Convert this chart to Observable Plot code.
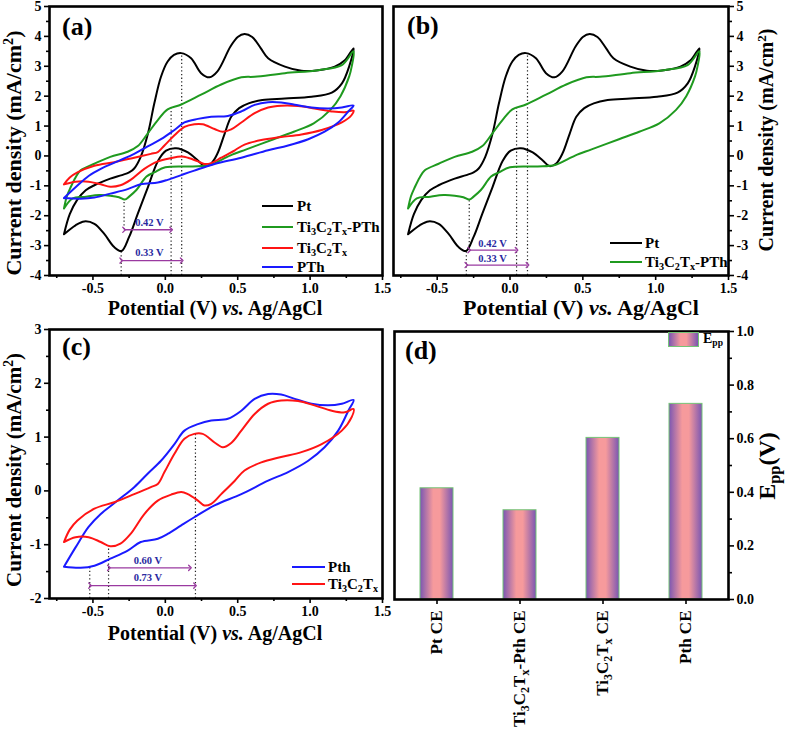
<!DOCTYPE html>
<html><head><meta charset="utf-8">
<script src="https://cdn.jsdelivr.net/npm/d3@7"></script>
<script src="https://cdn.jsdelivr.net/npm/@observablehq/plot@0.6"></script>
<style>
html,body{margin:0;padding:0;background:#fff;}
#root{position:relative;width:787px;height:731px;overflow:hidden;font-family:"Liberation Serif","Times New Roman",serif;font-weight:bold;color:#000;}
#root svg{position:absolute;overflow:visible;}
.t{position:absolute;white-space:nowrap;line-height:1;}
.c{transform:translate(-50%,-50%);}
.r{transform:translate(-50%,-50%) rotate(-90deg);}
.lg{transform:translateY(-50%);}
sub{font-size:68%;vertical-align:-0.3em;line-height:0;}
sup{font-size:65%;vertical-align:0.55em;line-height:0;}
.sw{position:absolute;height:0;border-top:2.2px solid;}
</style></head><body><div id="root"></div>
<script>
// ---------- data ----------
const ptCV = [[-0.70,-2.62],[-0.66,-1.95],[-0.61,-1.48],[-0.55,-1.15],[-0.49,-0.98],[-0.38,-0.76],[-0.30,-0.64],[-0.25,-0.55],[-0.215,-0.42],[-0.17,-0.03],[-0.12,0.75],[-0.076,1.76],[-0.03,2.65],[0.016,3.16],[0.06,3.38],[0.11,3.44],[0.178,3.27],[0.247,2.77],[0.305,2.63],[0.36,2.83],[0.45,3.66],[0.50,3.98],[0.547,4.08],[0.60,3.98],[0.66,3.6],[0.71,3.27],[0.826,2.99],[0.94,2.85],[1.056,2.87],[1.17,2.99],[1.24,3.2],[1.30,3.6],
[1.27,3.0],[1.22,2.43],[1.15,2.12],[1.01,1.98],[0.826,1.92],[0.67,1.87],[0.575,1.76],[0.51,1.6],[0.455,1.31],[0.41,0.75],[0.36,0.08],[0.317,-0.25],[0.27,-0.34],[0.225,-0.15],[0.156,0.12],[0.075,0.26],[0.005,0.18],[-0.05,-0.16],[-0.12,-1.04],[-0.19,-1.93],[-0.25,-2.71],[-0.302,-3.18],[-0.353,-3.05],[-0.423,-2.6],[-0.49,-2.27],[-0.56,-2.19],[-0.62,-2.32],[-0.70,-2.62]];
const greenCV = [[-0.70,-1.76],[-0.68,-1.35],[-0.653,-1.04],[-0.62,-0.72],[-0.585,-0.48],[-0.49,-0.26],[-0.38,-0.03],[-0.26,0.14],[-0.19,0.33],[-0.122,0.75],[-0.052,1.2],[0.016,1.56],[0.11,1.72],[0.247,2.05],[0.386,2.39],[0.525,2.63],[0.617,2.65],[0.826,2.77],[1.056,2.87],[1.219,3.04],[1.30,3.5],
[1.287,2.99],[1.27,2.66],[1.21,2.0],[1.14,1.54],[1.025,1.09],[0.887,0.81],[0.748,0.56],[0.56,0.22],[0.45,0.02],[0.4,-0.1],[0.31,-0.3],[0.19,-0.35],[0.0,-0.38],[-0.076,-0.55],[-0.13,-0.69],[-0.2,-1.14],[-0.25,-1.36],[-0.28,-1.46],[-0.32,-1.38],[-0.38,-1.33],[-0.456,-1.31],[-0.56,-1.37],[-0.64,-1.42],[-0.70,-1.76]];
const redCV = [[-0.70,-0.95],[-0.66,-0.72],[-0.607,-0.55],[-0.49,-0.33],[-0.353,-0.21],[-0.215,-0.06],[-0.1,0.07],[-0.052,0.13],[-0.006,0.35],[0.063,0.69],[0.132,0.97],[0.2,1.06],[0.258,1.06],[0.34,0.9],[0.397,0.81],[0.455,0.89],[0.525,1.12],[0.617,1.43],[0.71,1.62],[0.8,1.68],[0.917,1.67],[1.03,1.59],[1.15,1.49],[1.24,1.46],[1.30,1.52],
[1.287,1.37],[1.219,1.12],[1.08,0.87],[0.94,0.72],[0.8,0.63],[0.663,0.53],[0.547,0.38],[0.48,0.19],[0.386,-0.06],[0.317,-0.24],[0.27,-0.27],[0.225,-0.18],[0.156,-0.06],[0.11,-0.02],[0.04,-0.07],[-0.052,-0.18],[-0.145,-0.43],[-0.24,-0.8],[-0.31,-0.98],[-0.38,-1.03],[-0.446,-0.95],[-0.53,-0.86],[-0.62,-0.86],[-0.70,-0.95]];
const blueCV = [[-0.70,-1.41],[-0.62,-1.05],[-0.53,-0.67],[-0.446,-0.43],[-0.33,-0.18],[-0.215,0.07],[-0.122,0.32],[-0.03,0.56],[0.063,0.87],[0.132,1.12],[0.225,1.24],[0.317,1.31],[0.432,1.34],[0.525,1.49],[0.617,1.71],[0.71,1.8],[0.8,1.79],[0.894,1.71],[1.01,1.62],[1.125,1.59],[1.219,1.62],[1.30,1.69],
[1.264,1.49],[1.194,1.12],[1.1,0.81],[0.987,0.56],[0.848,0.35],[0.71,0.19],[0.525,-0.06],[0.34,-0.27],[0.2,-0.49],[0.11,-0.64],[0.016,-0.8],[-0.052,-0.89],[-0.17,-0.95],[-0.26,-1.11],[-0.38,-1.26],[-0.49,-1.39],[-0.585,-1.43],[-0.70,-1.41]];

const ceNames = ["Pt CE","Ti3C2Tx-Pth CE","Ti3C2Tx CE","Pth CE"];
const eppValues = [0.415, 0.333, 0.603, 0.73];

const xMajor = [-0.5,0,0.5,1,1.5];
const xMinor = [-0.75,-0.25,0.25,0.75,1.25];
const yMajorAB = [-4,-3,-2,-1,0,1,2,3,4,5];
const yMinorAB = [-3.5,-2.5,-1.5,-0.5,0.5,1.5,2.5,3.5,4.5];
const yMajorC = [-2,-1,0,1,2,3];
const yMinorC = [-1.5,-0.5,0.5,1.5,2.5];
const yMajorD = [0,0.2,0.4,0.6,0.8,1.0];
const yMinorD = [0.1,0.3,0.5,0.7,0.9];

const dotsA = [{x:-0.305,y1:-4,y2:-3.18},{x:-0.285,y1:-2.47,y2:-1.47},{x:0.04,y1:-4,y2:1.62},{x:0.113,y1:-4,y2:3.42}];
const arrowsA = [{x1:-0.285,x2:0.04,y:-2.47,lx:-0.11,ly:-2.24,label:"0.42 V"},{x1:-0.305,x2:0.113,y:-3.5,lx:-0.11,ly:-3.25,label:"0.33 V"}];
const dotsB = [{x:-0.30,y1:-4,y2:-3.18},{x:-0.28,y1:-3.15,y2:-1.47},{x:0.045,y1:-4,y2:1.6},{x:0.12,y1:-4,y2:3.42}];
const arrowsB = [{x1:-0.28,x2:0.045,y:-3.15,lx:-0.12,ly:-2.93,label:"0.42 V"},{x1:-0.30,x2:0.12,y:-3.65,lx:-0.12,ly:-3.43,label:"0.33 V"}];
const dotsC = [{x:-0.522,y1:-2,y2:-1.42},{x:-0.392,y1:-2,y2:-1.03},{x:0.208,y1:-2,y2:1.07}];
const arrowsC = [{x1:-0.39,x2:0.17,y:-1.43,lx:-0.12,ly:-1.3,label:"0.60 V"},{x1:-0.52,x2:0.205,y:-1.76,lx:-0.12,ly:-1.62,label:"0.73 V"}];

const colPt = "#000000", colGreen = "#1f9a1f", colRed = "#ff1414", colBlue = "#1a1aff";

// ---------- helpers ----------
const root = document.getElementById("root");
const ns = "http://www.w3.org/2000/svg";
const fmt1 = d => d.toFixed(1);
const fmt0 = d => String(d);
const baseStyle = {fontFamily:"'Liberation Serif', serif", fontWeight:"bold", fontSize:"14px", background:"transparent", overflow:"visible"};

function cvMarks(curves, dots, arrows, yAnchor, yMajor, yMinor) {
  return [
    Plot.axisX(xMajor, {tickSize:5, tickPadding:3, tickFormat:fmt1, label:null, strokeWidth:1.6, fontSize:14}),
    Plot.axisX(xMinor, {tickSize:3, tickFormat:()=>"", label:null, strokeWidth:1.6}),
    Plot.axisY(yMajor, {anchor:yAnchor, tickSize:5, tickPadding:3, tickFormat:fmt0, label:null, strokeWidth:1.6, fontSize:14}),
    Plot.axisY(yMinor, {anchor:yAnchor, tickSize:3, tickFormat:()=>"", label:null, strokeWidth:1.6}),
    Plot.ruleX(dots, {x:"x", y1:"y1", y2:"y2", stroke:"#222", strokeWidth:1.2, strokeDasharray:"1.3,2.4"}),
    ...curves.map(c => Plot.line(c.data, {x:d=>d[0], y:d=>d[1], stroke:c.color, strokeWidth:2, curve:"catmull-rom"})),
    Plot.link(arrows, {x1:"x1", x2:"x2", y1:"y", y2:"y", stroke:"#9a3aa0", strokeWidth:1.3, markerStart:"arrow", markerEnd:"arrow"}),
    Plot.text(arrows, {x:"lx", y:"ly", text:"label", fill:"#2a2aa0", fontSize:10.5, fontWeight:"bold"}),
    Plot.frame({stroke:"#000", strokeWidth:2.6})
  ];
}
function place(svg, left, top) { svg.style.left = left+"px"; svg.style.top = top+"px"; root.appendChild(svg); }
function addText(html, x, y, cls, size, extra) {
  const d = document.createElement("div");
  d.className = "t " + cls;
  d.innerHTML = html;
  d.style.left = x+"px"; d.style.top = y+"px"; d.style.fontSize = size+"px";
  if (extra) Object.assign(d.style, extra);
  root.appendChild(d);
}
function addLegend(items, x1, x2, tx, ys, size) {
  items.forEach((it,i) => {
    const s = document.createElement("div");
    s.className = "sw"; s.style.left = x1+"px"; s.style.width = (x2-x1)+"px";
    s.style.top = (ys[i]-1)+"px"; s.style.borderTopColor = it.color;
    root.appendChild(s);
    addText(it.html, tx, ys[i], "lg", size);
  });
}
const tiHtml = "Ti<sub>3</sub>C<sub>2</sub>T<sub>x</sub>";
const yTitle = "Current density (mA/cm<sup>2</sup>)";
const xTitle = "Potential (V) <i>vs.</i> Ag/AgCl";

// ---------- panel (a) ----------
const pa = Plot.plot({
  width:390, height:320, marginLeft:49, marginRight:8, marginTop:6, marginBottom:45,
  x:{domain:[-0.8,1.5]}, y:{domain:[-4,5]}, style:baseStyle,
  marks: cvMarks([{data:ptCV,color:colPt},{data:greenCV,color:colGreen},{data:redCV,color:colRed},{data:blueCV,color:colBlue}], dotsA, arrowsA, "left", yMajorAB, yMinorAB)
});
place(pa, 0, 0);

// ---------- panel (b) ----------
const pb = Plot.plot({
  width:397, height:320, marginLeft:3, marginRight:59, marginTop:6, marginBottom:45,
  x:{domain:[-0.8,1.5]}, y:{domain:[-4,5]}, style:baseStyle,
  marks: cvMarks([{data:ptCV,color:colPt},{data:greenCV,color:colGreen}], dotsB, arrowsB, "right", yMajorAB, yMinorAB)
});
place(pb, 390, 0);

// ---------- panel (c) ----------
const pc = Plot.plot({
  width:390, height:330, marginLeft:49, marginRight:8, marginTop:9, marginBottom:52,
  x:{domain:[-0.8,1.5]}, y:{domain:[-2,3]}, style:baseStyle,
  marks: cvMarks([{data:blueCV,color:colBlue},{data:redCV,color:colRed}], dotsC, arrowsC, "left", yMajorC, yMinorC)
});
place(pc, 0, 320);

// ---------- panel (d) ----------
const pd = Plot.plot({
  width:397, height:411, marginLeft:4, marginRight:59, marginTop:11, marginBottom:132,
  x:{domain:ceNames, paddingInner:0.6, paddingOuter:0.3}, y:{domain:[0,1]}, style:baseStyle,
  marks:[
    Plot.barY(ceNames.map((n,i)=>({name:n, v:eppValues[i]})), {x:"name", y:"v", fill:"url(#barGrad)", stroke:"#74c476", strokeWidth:1}),
    Plot.axisX({tickRotate:-90, tickSize:5, tickPadding:6, label:null, fontSize:17, strokeWidth:1.6}),
    Plot.axisY(yMajorD, {anchor:"right", tickSize:5, tickPadding:3, tickFormat:fmt1, label:null, fontSize:14, strokeWidth:1.6}),
    Plot.axisY(yMinorD, {anchor:"right", tickSize:3, tickFormat:()=>"", label:null, strokeWidth:1.6}),
    Plot.frame({stroke:"#000", strokeWidth:2.6})
  ]
});
const defs = document.createElementNS(ns, "defs");
defs.innerHTML = '<linearGradient id="barGrad" x1="0" x2="1" y1="0" y2="0"><stop offset="0" stop-color="#7a56b2"/><stop offset="0.4" stop-color="#f69a9c"/><stop offset="0.6" stop-color="#f69a9c"/><stop offset="1" stop-color="#7a56b2"/></linearGradient>';
pd.insertBefore(defs, pd.firstChild);
pd.querySelectorAll('g[aria-label="x-axis tick label"] text').forEach(t => {
  const s = t.textContent;
  if (!s.includes("Ti3C2Tx")) return;
  const parts = [["Ti",0],["3",1],["C",0],["2",1],["T",0],["x",1],[s.replace("Ti3C2Tx",""),0]];
  t.textContent = "";
  let cur = 0;
  parts.forEach(([txt, sub]) => {
    const sp = document.createElementNS(ns, "tspan");
    const target = sub ? 4 : 0;
    sp.setAttribute("dy", target - cur); cur = target;
    if (sub) sp.setAttribute("font-size", "12");
    sp.textContent = txt;
    t.appendChild(sp);
  });
});
place(pd, 390, 320);

// ---------- overlays: titles ----------
addText(yTitle, 14, 153, "r", 22);
addText(xTitle, 215, 308, "c", 20);
addText(yTitle, 766, 140, "r", 20);
addText(xTitle, 581, 308, "c", 22);
addText(yTitle, 14, 470, "r", 21);
addText(xTitle, 215, 633, "c", 20);
addText("E<sub>pp</sub>(V)", 767, 466, "r", 24);

// panel labels
addText("(a)", 62, 14, "", 26);
addText("(b)", 407, 13, "", 26);
addText("(c)", 62, 334, "", 26);
addText("(d)", 405, 338, "", 26);

// legends
addLegend([{color:colPt, html:"Pt"},{color:colGreen, html:tiHtml+"-PTh"},{color:colRed, html:tiHtml},{color:colBlue, html:"PTh"}], 262, 293, 297, [206,227,248,267], 15);
addLegend([{color:colPt, html:"Pt"},{color:colGreen, html:tiHtml+"-PTh"}], 610, 642, 645, [243,262], 15);
addLegend([{color:colBlue, html:"Pth"},{color:colRed, html:tiHtml}], 292, 325, 328, [567,584], 15);
// legend (d)
const sw = document.createElement("div");
Object.assign(sw.style, {position:"absolute", left:"668px", top:"332px", width:"31px", height:"15px", background:"linear-gradient(to right,#7a56b2,#f69a9c 40%,#f69a9c 60%,#7a56b2)", border:"1px solid #74c476", boxSizing:"border-box"});
root.appendChild(sw);
addText("E<sub>pp</sub>", 703, 339, "lg", 14);
</script></body></html>
